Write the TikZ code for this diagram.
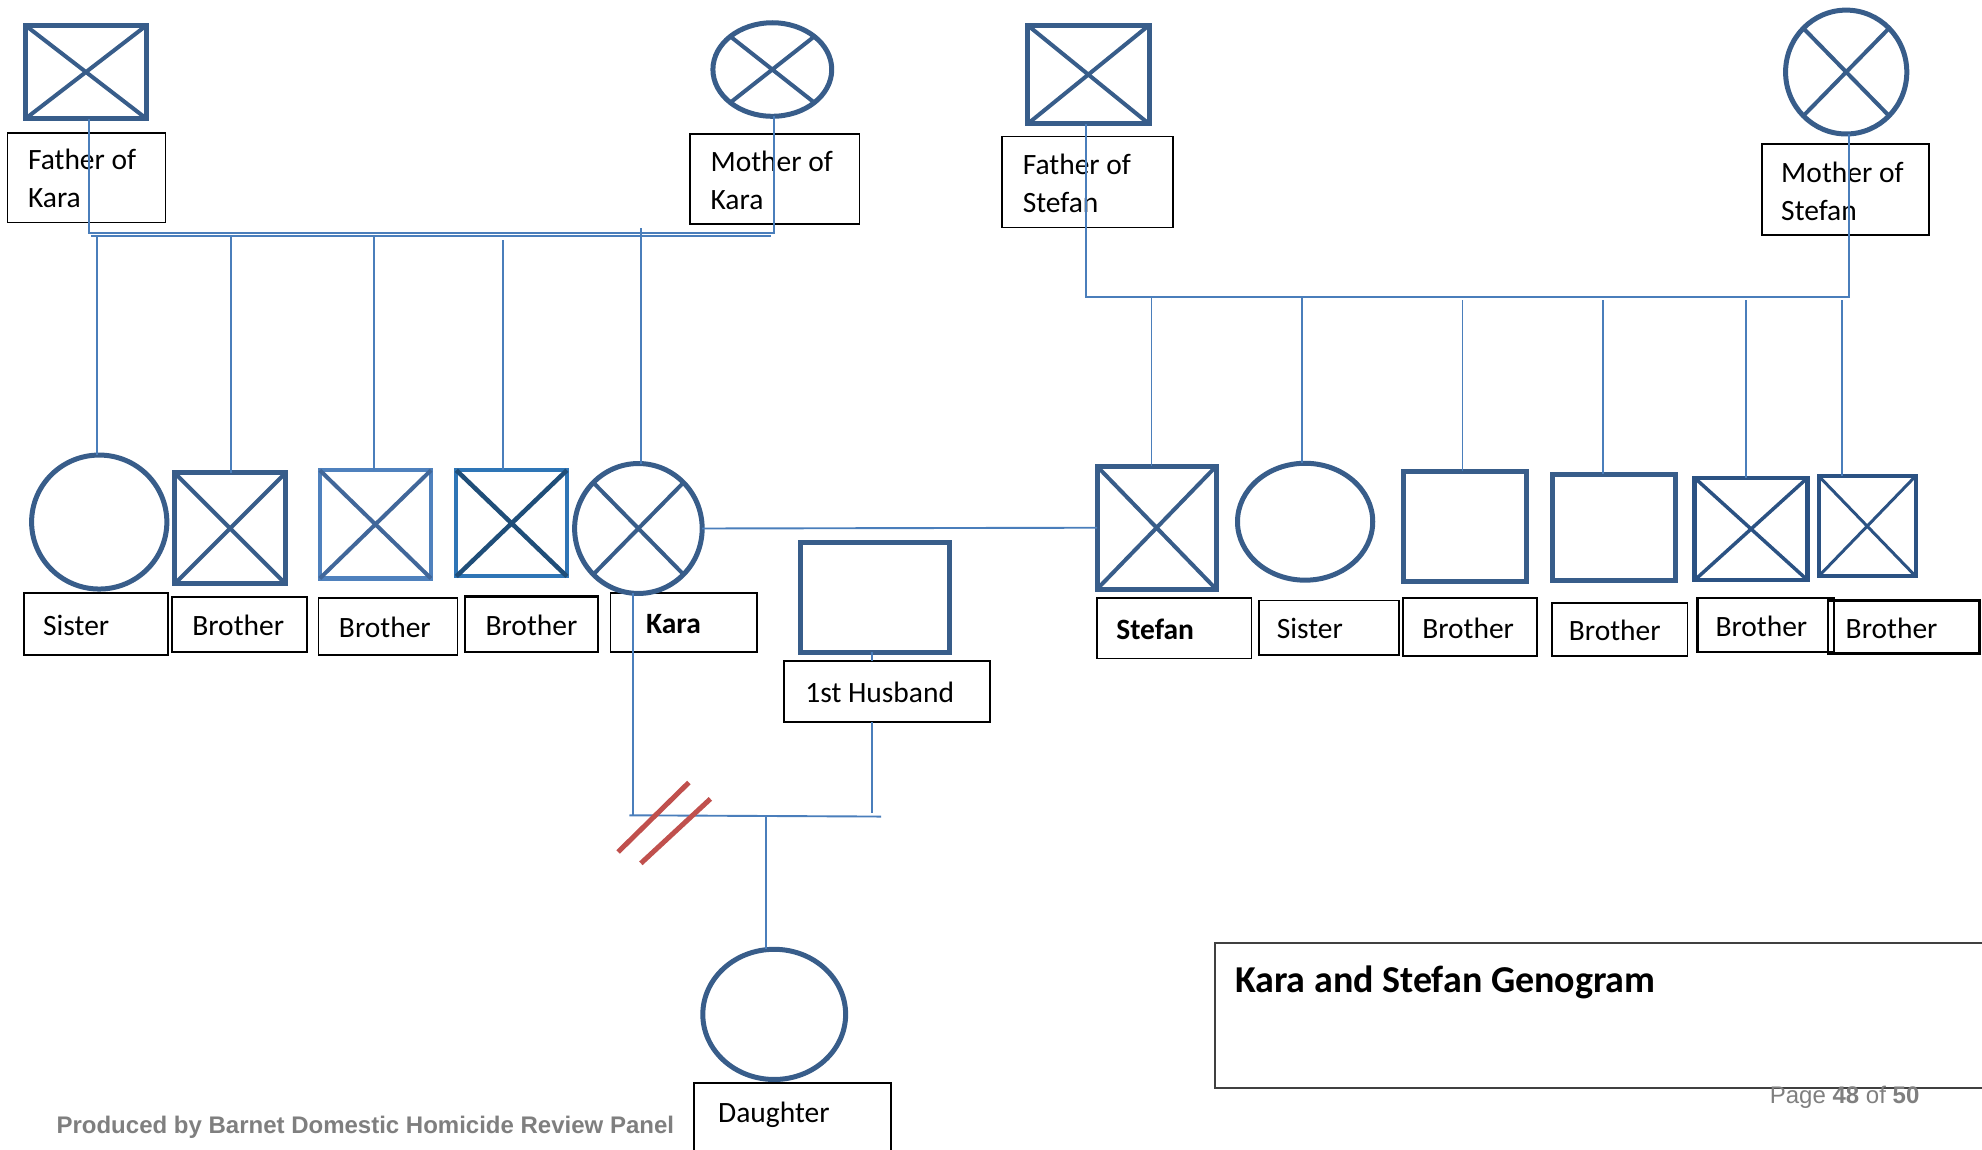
\documentclass[tikz,border=0pt]{standalone}
\usepackage{fontspec}
\setmainfont{Carlito}
\newfontfamily\arialf{Liberation Sans}
\usetikzlibrary{shapes.geometric}
\definecolor{shp}{HTML}{385D8A}
\definecolor{lnb}{HTML}{4A7EBB}
\definecolor{lightb}{HTML}{4F81BD}
\definecolor{midb}{HTML}{2E75B6}
\definecolor{darkb}{HTML}{1F4E79}
\definecolor{navyb}{HTML}{2B5283}
\definecolor{xmid}{HTML}{41679A}
\definecolor{redd}{HTML}{C0504D}
\definecolor{grayt}{HTML}{7F7F7F}
\definecolor{boxg}{HTML}{404040}
\tikzset{
 conn/.style={draw=lnb, line width=1.9pt},
 sq/.style={draw=shp, line width=5pt, rectangle, inner sep=0pt, outer sep=0pt},
 circ/.style={draw=shp, line width=5pt, ellipse, inner sep=0pt, outer sep=0pt},
 xl/.style={draw=shp, line width=4pt},
 lbox/.style={draw=black, line width=1.8pt, rectangle, inner sep=0pt, outer sep=0pt},
 ltxt/.style={inner sep=0pt, align=left, font=\fontsize{29.5}{38}\selectfont},
 divl/.style={draw=redd, line width=5pt},
}
\newcommand\sqn[6][]{\node[sq,#1,minimum width={(#5-#3-4)*1.26403pt},minimum height={(#6-#4-4)*1.26403pt}] (#2) at ({(#3+#5)/2},{(#4+#6)/2}) {};}
\newcommand\elln[6][]{\node[circ,#1,minimum width={(#5-#3-4)*1.26403pt},minimum height={(#6-#4-4)*1.26403pt}] (#2) at ({(#3+#5)/2},{(#4+#6)/2}) {};}
\newcommand\xx[2][]{\draw[xl,#1] (#2.north west) -- (#2.south east) (#2.north east) -- (#2.south west);}
\newcommand\lbl[8][]{%
 \node[lbox,#1,minimum width={(#5-#3)*1.26403pt},minimum height={(#6-#4)*1.26403pt}] (#2) at ({(#3+#5)/2},{(#4+#6)/2}) {};
 \node[ltxt,anchor=west] (#2t) at (#7,{(#4+#6)/2+1}) {#8};}
\begin{document}
\begin{tikzpicture}[x=1.26403pt,y=-1.26403pt]
\useasboundingbox (0,0) rectangle (1568,909);
% ---- labels
\lbl{lfk}{6}{105}{131}{176}{22}{Father of\\Kara}
\lbl{lmk}{546}{106}{680}{177}{562}{Mother of\\Kara}
\lbl{lfs}{793}{108}{928}{180}{809}{Father of\\Stefan}
\lbl{lms}{1394}{114}{1526}{186}{1409}{Mother of\\Stefan}
\lbl{lsis1}{19}{469}{133}{518}{34}{Sister}
\lbl{lb1}{136}{472}{243}{516}{152}{Brother}
\lbl{lb2}{252}{473}{362}{518}{268}{Brother}
\lbl[line width=2.4pt]{lb3}{368}{472}{473}{516}{384}{Brother}
\lbl{lkara}{483}{469}{599}{516}{511}{\textbf{Kara}}
\lbl{lhus}{620}{523}{783}{571}{637}{1st Husband}
\lbl{lste}{868}{473}{990}{521}{883}{\textbf{Stefan}}
\lbl{lsis2}{996}{475}{1107}{518}{1010}{Sister}
\lbl{lb4}{1110}{473}{1216}{519}{1125}{Brother}
\lbl{lb5}{1228}{477}{1335}{519}{1241}{Brother}
\lbl[line width=2.4pt]{lb6}{1343}{473}{1451}{516}{1357}{Brother}
\lbl[line width=2.4pt]{lb7}{1446}{475}{1566}{517}{1460}{Brother}
\node[lbox,anchor=north west,minimum width={156*1.26403pt},minimum height={90*1.26403pt}] (ldau) at (549,857) {};
\node[ltxt,anchor=base west] (ldaut) at (568,888) {Daughter};
% ---- shapes
\sqn{fk}{18}{18}{118}{96}
\elln{mk}{562}{16}{660}{94}
\sqn{fs}{811}{18}{911}{100}
\elln{ms}{1410.6}{6}{1510.5}{108}
\elln{sis1}{23}{358}{134}{468}
\sqn{b1}{136}{372}{228}{464}
\sqn[draw=lightb,line width=4.5pt]{b2}{251}{370}{343}{459.6}
\sqn[draw=midb,line width=4pt]{b3}{359}{370}{450.5}{458}
\elln{kara}{452.6}{364.7}{557.5}{471.5}
\sqn{hus}{631}{427}{753}{518}
\sqn{ste}{866}{367}{964}{468}
\elln{sis2}{977}{364.5}{1088}{461}
\sqn{b4}{1108}{371}{1210}{462}
\sqn{b5}{1226}{373}{1327.7}{461}
\sqn[draw=navyb,line width=4.5pt]{b6}{1338.6}{376}{1432}{461}
\sqn[draw=navyb,line width=4pt]{b7}{1436.7}{374.5}{1517.6}{458}
\elln{dau}{554}{749}{671}{856}
\xx{fk}\xx{mk}\xx{fs}\xx{ms}\xx{b1}
\xx[draw=xmid]{b2}
\xx[draw=darkb,line width=4.5pt]{b3}
\xx{kara}\xx{ste}
\xx[draw=navyb,line width=3.5pt]{b6}
\xx[draw=navyb,line width=3pt]{b7}
% ---- Kara's parents
\coordinate (kpl) at (70.6,184);
\coordinate (kpr) at (612,184);
\coordinate (kpl2) at (72,187);
\coordinate (kpr2) at (610,187);
\draw[conn] (fk.south -| kpl) -- (kpl) -- (kpr) -- (mk.south -| kpr);
\draw[conn] (kpl2) -- (kpr2);
\draw[conn] (sis1.north -| 77,0) -- (77,187);
\draw[conn] (b1.north -| 183,0) -- (183,187);
\draw[conn] (b2.north -| 296,0) -- (296,187);
\draw[conn] (b3.north -| 398,0) -- (398,190);
\draw[conn] (kara.north -| 507,0) -- (507,180);
% ---- Stefan's parents
\coordinate (spl) at (859,234.7);
\coordinate (spr) at (1463,234.7);
\draw[conn] (fs.south -| spl) -- (spl) -- (spr) -- (ms.south -| spr);
\draw[conn] (ste.north -| 911,0) -- (911,236);
\draw[conn] (sis2.north -| 1030,0) -- (1030,234);
\draw[conn] (b4.north -| 1157,0) -- (1157,237);
\draw[conn] (b5.north -| 1268,0) -- (1268,237);
\draw[conn] (b6.north -| 1381,0) -- (1381,237);
\draw[conn] (b7.north -| 1457,0) -- (1457,237);
% ---- marriage
\draw[conn] (kara.east) -- (ste.west);
% ---- Kara and 1st husband
\coordinate (kd) at (501,645);
\coordinate (dl) at (498,645);
\coordinate (dr) at (697,646);
\coordinate (hd) at (690,643);
\coordinate (dm) at (606,645.5);
\draw[conn] (kara.south -| kd) -- (kd);
\draw[conn] (dl) -- (dr);
\draw[conn] (hus.south -| hd) -- (lhus.north -| hd);
\draw[conn] (lhus.south -| hd) -- (hd);
\draw[conn] (dm) -- (dau.north -| dm);
\draw[divl] (489,674) -- (545,619);
\draw[divl] (507,683) -- (562,632);
% ---- title and footer
\node[lbox,draw=boxg,anchor=north west,minimum width={700*1.26403pt},minimum height={115*1.26403pt}] (tbox) at (961,746) {};
\node[anchor=base west,inner sep=0pt,font=\bfseries\fontsize{38}{44}\selectfont] (title) at (977,785) {Kara and Stefan Genogram};
\node[anchor=base west,inner sep=0pt,font=\arialf\bfseries\fontsize{24}{28}\selectfont,text=grayt] (foot) at (44.6,896.5) {Produced by Barnet Domestic Homicide Review Panel};
\node[anchor=base west,inner sep=0pt,font=\arialf\fontsize{24}{28}\selectfont,text=grayt] (pg) at (1400,873) {Page \textbf{48} of \textbf{50}};
\end{tikzpicture}
\end{document}
